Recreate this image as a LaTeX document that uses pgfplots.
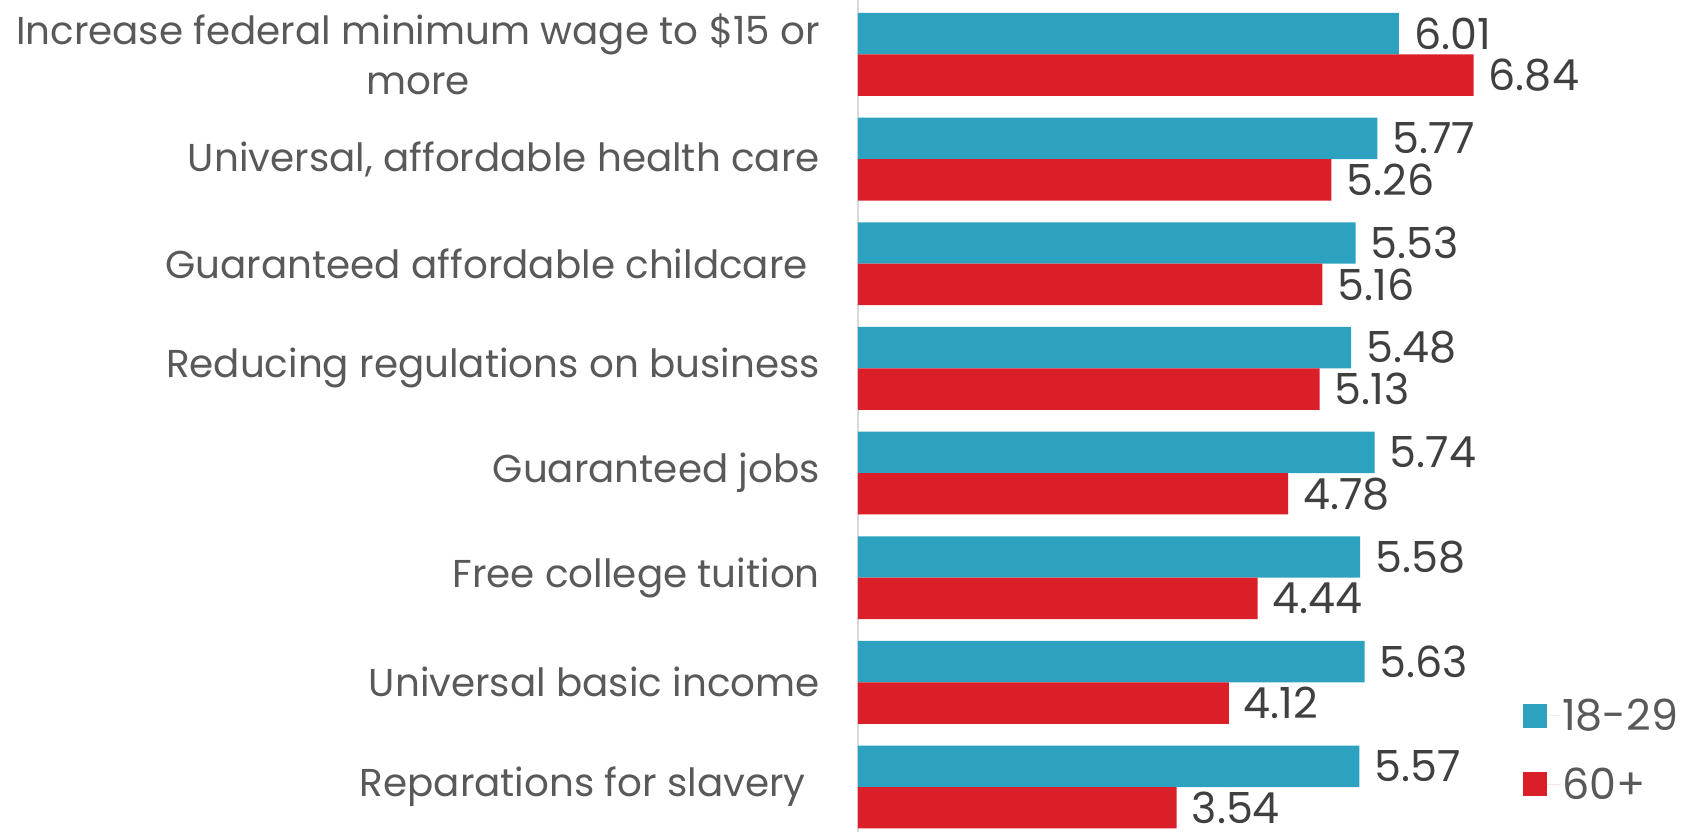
\documentclass[border=0pt]{standalone}
\usepackage{fontspec}
\setmainfont{Poppins}
\usepackage{pgfplots}
\pgfplotsset{compat=1.18}
\definecolor{cblue}{RGB}{44,162,192}
\definecolor{cred}{RGB}{218,31,41}
\definecolor{labgray}{RGB}{89,89,89}
\definecolor{valgray}{RGB}{64,64,64}
\definecolor{axgray}{RGB}{217,217,217}
\newcommand\labfont{\fontsize{39}{51}\selectfont}
\newcommand\bigfont{\fontsize{43}{51}\selectfont}
\begin{document}
\begin{tikzpicture}
\begin{axis}[
  scale only axis, width=720bp, height=832bp,
  xbar, bar width=0.396,
  xmin=0, xmax=8, ymin=-0.52, ymax=7.43, y dir=reverse,
  axis x line=none, axis y line*=left,
  y axis line style={draw=axgray, line width=1.5bp, -},
  ytick={0,...,7},
  yticklabels={{Increase federal minimum wage to \$15 or\\more},
    {Universal, affordable health care},
    {Guaranteed affordable childcare\hspace*{12bp}},
    {Reducing regulations on business},
    {Guaranteed jobs},
    {Free college tuition},
    {Universal basic income},
    {Reparations for slavery\hspace*{14bp}}},
  major tick length=0pt,
  yticklabel style={font=\labfont, text=labgray, align=center, inner sep=0pt, xshift=-38bp},
  nodes near coords, point meta=x,
  nodes near coords style={font=\bigfont, text=valgray, anchor=west, inner sep=0pt, xshift=15bp},
  /pgf/number format/fixed, /pgf/number format/fixed zerofill,
  /pgf/number format/precision=2, /pgf/number format/assume math mode=true,
  legend image code/.code={\fill[#1] (0bp,-12bp) rectangle (24bp,12bp); \path (0bp,0bp) -- (37bp,0bp);},
  legend style={draw=none, fill=none, inner sep=0pt,
    at={(axis description cs:0.9236,0.162)}, anchor=north west,
    font=\bigfont, text=labgray, row sep=31bp},
  legend cell align=left,
  clip=false,
]
\addplot[fill=cblue, draw=none, bar shift=-0.198] coordinates {
  (6.01,0) (5.77,1) (5.53,2) (5.48,3) (5.74,4) (5.58,5) (5.63,6) (5.57,7)};
\addlegendentry{18-29}
\addplot[fill=cred, draw=none, bar shift=0.198] coordinates {
  (6.84,0) (5.26,1) (5.16,2) (5.13,3) (4.78,4) (4.44,5) (4.12,6) (3.54,7)};
\addlegendentry{60+}
\end{axis}
\pgfresetboundingbox
\path (-858bp,0bp) rectangle (845bp,832bp);
\end{tikzpicture}
\end{document}
